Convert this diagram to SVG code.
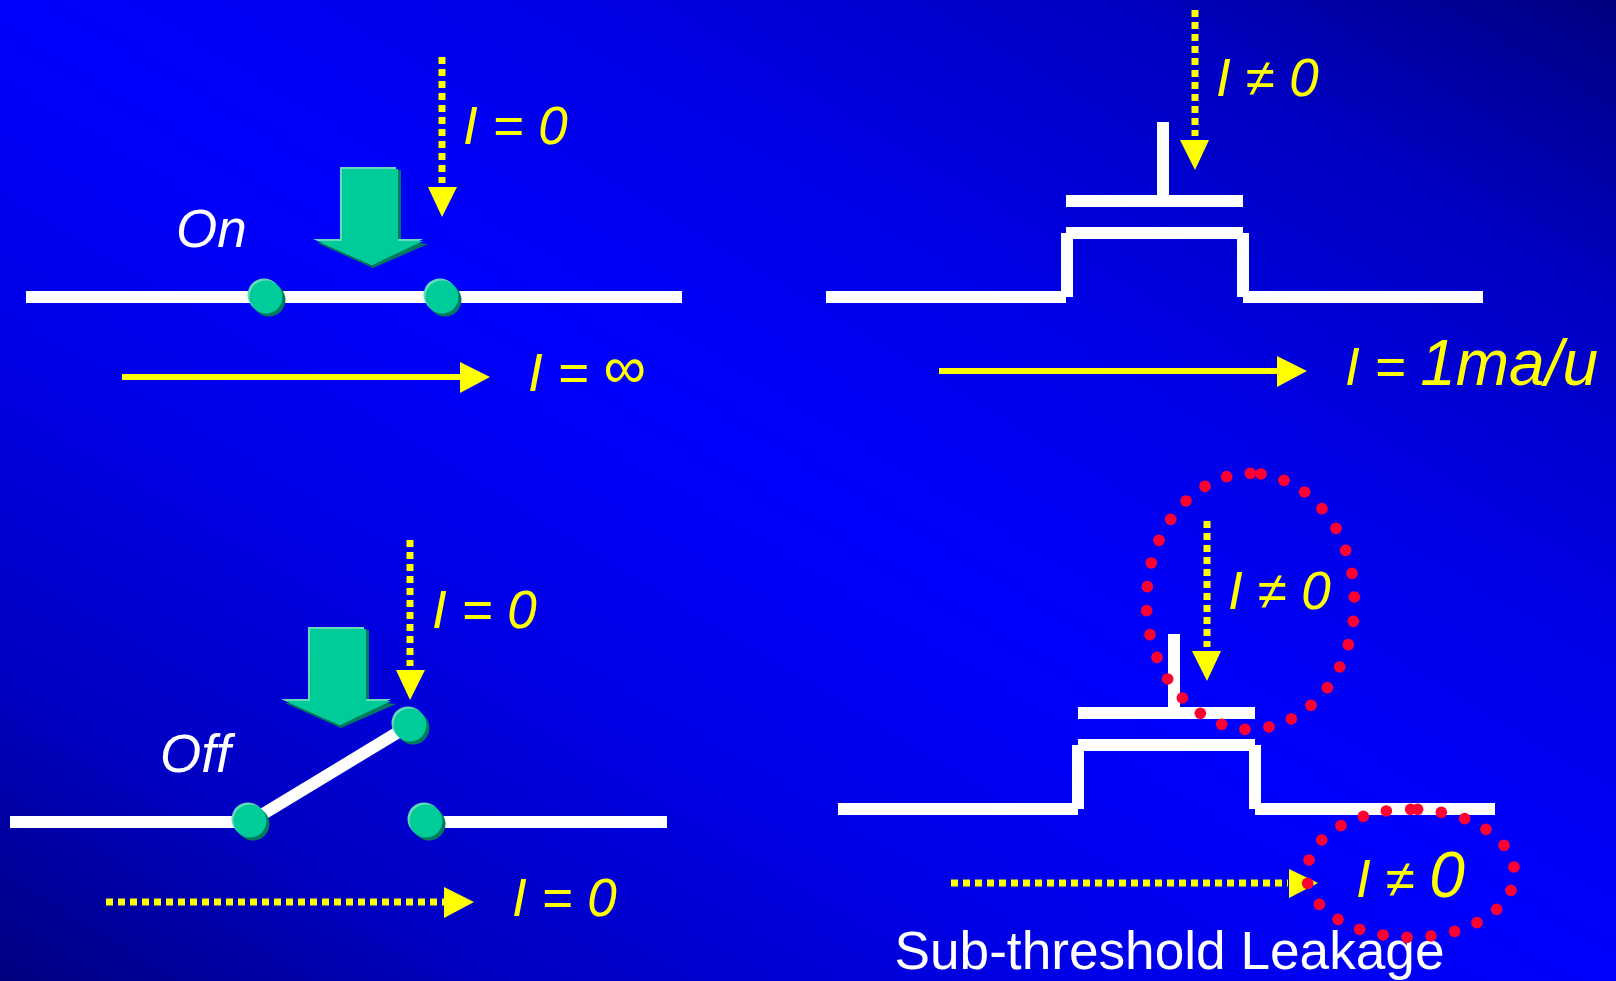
<svg xmlns="http://www.w3.org/2000/svg" width="1616" height="981" viewBox="0 0 1616 981">
<style>
.t{font-family:"Liberation Sans",Arial,sans-serif;font-size:53px}
.y{fill:#ffff00;font-style:italic}
.w{fill:#fff}
.i{font-style:italic}
.big{font-size:64px}
.wire{stroke:#fff;stroke-width:12;fill:none}
.solid{stroke:#ffff00;stroke-width:6;fill:none}
.dot{stroke:#ffff00;stroke-width:7;fill:none;stroke-dasharray:7 5}
.head{fill:#ffff00}
.red circle{fill:#ff0033}
</style>
<defs>
<linearGradient id="bg" x1="0" y1="1" x2="1" y2="0">
<stop offset="0" stop-color="#000080"/>
<stop offset="0.15" stop-color="#0000c0"/>
<stop offset="0.33" stop-color="#0000e6"/>
<stop offset="0.5" stop-color="#0000ff"/>
<stop offset="0.67" stop-color="#0000e6"/>
<stop offset="0.85" stop-color="#0000c0"/>
<stop offset="1" stop-color="#000080"/>
</linearGradient>
<g id="knob">
<circle cx="3" cy="3" r="16.5" fill="#007a5c"/>
<circle cx="-2" cy="-2" r="16.5" fill="#66d9bb"/>
<circle cx="0" cy="0" r="16.5" fill="#00cc99"/>
</g>
<g id="bigarrow">
<polygon points="345,170 401,170 401,241 428,244 373,268 317,243 345,243" fill="#007a5c"/>
<polygon points="340,167 396,167 396,239 423,239 372,265 313,239 340,239" fill="#66d9bb"/>
<polygon points="342,169 398,169 398,241 423,241 372,265 318,241 342,241" fill="#00cc99"/>
</g>
</defs>
<rect width="1616" height="981" fill="url(#bg)"/>
<g id="connectors">
<path class="wire" d="M26 297H682"/>
<path class="wire" d="M826 297H1066M1243 297H1483"/>
<path class="wire" d="M1066 233H1243M1066 201H1243M1163 122V195M1067 233V297M1243 233V297" />
<path class="wire" d="M10 822H250M425 822H667M250 822L410 725"/>
<path class="wire" d="M838 809H1078M1255 809H1495M1078 745H1255M1078 713H1255M1174 634V707M1078 745V809M1255 745V809"/>
<path class="dot" d="M442 57V183"/><polygon class="head" points="428,187 457,187 442,217"/>
<path class="dot" d="M1195 10V136"/><polygon class="head" points="1180,140 1209,140 1195,170"/>
<path class="solid" d="M122 377H462"/><polygon class="head" points="460,362 490,377 460,393"/>
<path class="solid" d="M939 371H1280"/><polygon class="head" points="1277,356 1307,371 1277,387"/>
<path class="dot" d="M410 540V666"/><polygon class="head" points="396,670 425,670 410,700"/>
<path class="dot" d="M106 902H444"/><polygon class="head" points="444,887 474,902 444,918"/>
<path class="dot" d="M1207 521V647"/><polygon class="head" points="1192,651 1221,651 1207,681"/>
<path class="dot" d="M951 883H1288"/><polygon class="head" points="1289,869 1318,883 1289,898"/>
</g>
<g id="switch-on">
<use href="#bigarrow"/>
<use href="#knob" x="266" y="297"/>
<use href="#knob" x="442" y="297"/>
<text class="t w i" x="176" y="247">On</text>
</g>
<g id="switch-off">
<use href="#bigarrow" x="-32" y="460"/>
<use href="#knob" x="250" y="821"/>
<use href="#knob" x="410" y="725"/>
<use href="#knob" x="426" y="821"/>
<text class="t w i" x="160" y="772">Off</text>
</g>
<g id="labels">
<text class="t y" x="463" y="144">I = 0</text>
<text class="t y" x="528" y="391">I = <tspan font-style="normal" font-size="60" dy="-3">∞</tspan></text>
<text class="t y" x="1216" y="96">I ≠ 0</text>
<text class="t y" x="1345" y="385">I = <tspan class="big">1ma/u</tspan></text>
<text class="t y" x="432" y="628">I = 0</text>
<text class="t y" x="512" y="916">I = 0</text>
<text class="t y" x="1228" y="609">I ≠ 0</text>
<text class="t y" x="1356" y="897">I ≠ <tspan class="big">0</tspan></text>
<text class="t w" x="894.5" y="969" style="font-size:53.2px">Sub-threshold Leakage</text>
</g>
<g id="leak-gate" class="red" transform="translate(1120 460) scale(.3333)">
<circle cx="391" cy="40" r="17.5"/><circle cx="423" cy="42" r="17.5"/><circle cx="492" cy="61" r="17.5"/><circle cx="554" cy="96" r="17.5"/><circle cx="606" cy="146" r="17.5"/><circle cx="648" cy="205" r="17.5"/><circle cx="677" cy="271" r="17.5"/><circle cx="696" cy="340" r="17.5"/><circle cx="703" cy="411" r="17.5"/><circle cx="700" cy="484" r="17.5"/><circle cx="685" cy="554" r="17.5"/><circle cx="659" cy="621" r="17.5"/><circle cx="622" cy="683" r="17.5"/><circle cx="573" cy="736" r="17.5"/><circle cx="514" cy="777" r="17.5"/><circle cx="447" cy="801" r="17.5"/><circle cx="375" cy="808" r="17.5"/><circle cx="305" cy="793" r="17.5"/><circle cx="241" cy="760" r="17.5"/><circle cx="187" cy="714" r="17.5"/><circle cx="143" cy="657" r="17.5"/><circle cx="111" cy="592" r="17.5"/><circle cx="90" cy="524" r="17.5"/><circle cx="80" cy="452" r="17.5"/><circle cx="82" cy="380" r="17.5"/><circle cx="94" cy="309" r="17.5"/><circle cx="117" cy="241" r="17.5"/><circle cx="152" cy="178" r="17.5"/><circle cx="198" cy="123" r="17.5"/><circle cx="255" cy="79" r="17.5"/><circle cx="320" cy="50" r="17.5"/>
</g>
<g id="leak-drain" class="red" transform="translate(1250 780) scale(.3333)">
<circle cx="482" cy="88" r="17.5"/><circle cx="503" cy="88" r="17.5"/><circle cx="574" cy="97" r="17.5"/><circle cx="644" cy="116" r="17.5"/><circle cx="708" cy="148" r="17.5"/><circle cx="762" cy="196" r="17.5"/><circle cx="792" cy="261" r="17.5"/><circle cx="783" cy="331" r="17.5"/><circle cx="740" cy="388" r="17.5"/><circle cx="681" cy="428" r="17.5"/><circle cx="614" cy="454" r="17.5"/><circle cx="543" cy="468" r="17.5"/><circle cx="471" cy="472" r="17.5"/><circle cx="399" cy="465" r="17.5"/><circle cx="329" cy="448" r="17.5"/><circle cx="264" cy="418" r="17.5"/><circle cx="208" cy="373" r="17.5"/><circle cx="173" cy="310" r="17.5"/><circle cx="177" cy="240" r="17.5"/><circle cx="215" cy="180" r="17.5"/><circle cx="273" cy="137" r="17.5"/><circle cx="340" cy="109" r="17.5"/><circle cx="409" cy="93" r="17.5"/>
</g>
</svg>
